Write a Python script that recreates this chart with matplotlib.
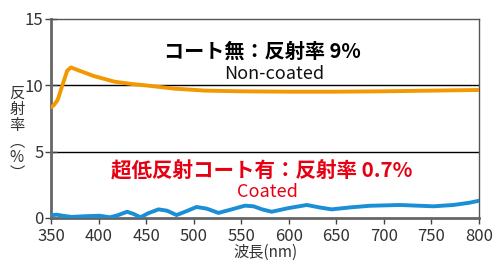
import matplotlib.pyplot as plt

plt.rcParams['font.family'] = ['Noto Sans CJK JP', 'DejaVu Sans']

# Non-coated reflectance (%)
wl_nc = [350, 353, 357, 362, 367, 371, 380, 395, 417, 435, 449, 480, 512,
         550, 600, 650, 700, 750, 800]
r_nc = [8.35, 8.5, 8.9, 10.0, 11.1, 11.35, 11.1, 10.7, 10.27, 10.1, 10.0,
        9.75, 9.6, 9.55, 9.52, 9.52, 9.55, 9.6, 9.65]

# Coated reflectance (%)
wl_c = [350, 356, 364, 372, 385, 401, 412, 420, 430, 437, 444, 452, 463, 472,
        482, 492, 503, 514, 526, 540, 554, 563, 572, 582, 600, 619, 632, 645,
        665, 685, 717, 752, 773, 790, 800]
r_c = [0.2, 0.25, 0.15, 0.08, 0.13, 0.17, 0.05, 0.2, 0.47, 0.3, 0.05, 0.35,
       0.65, 0.55, 0.22, 0.5, 0.83, 0.7, 0.38, 0.65, 0.93, 0.88, 0.65, 0.47,
       0.75, 0.98, 0.8, 0.65, 0.8, 0.92, 0.98, 0.88, 0.98, 1.15, 1.3]

x_ticks = [350, 400, 450, 500, 550, 600, 650, 700, 750, 800]
y_ticks = [0, 5, 10, 15]

fig = plt.figure(figsize=(4.97, 2.62), dpi=100)
ax = fig.add_axes([0.1026, 0.168, 0.8612, 0.7595])

for y in (5, 10):
    ax.axhline(y, color='black', lw=1, zorder=1)

ax.plot(wl_nc, r_nc, color='#f39800', lw=2.8, solid_capstyle='round', zorder=3)
ax.plot(wl_c, r_c, color='#1a8fd6', lw=2.8, solid_capstyle='round', zorder=3)

ax.set_xlim(350, 800)
ax.set_ylim(0, 15)
ax.set_xticks(x_ticks)
ax.set_yticks(y_ticks)
ax.tick_params(axis='both', labelsize=12, colors='#444444', length=4,
               width=1, labelcolor='#333333')
ax.tick_params(axis='x', pad=3.5)
ax.tick_params(axis='y', direction='inout', length=8, pad=1.5)

for side in ('left', 'bottom'):
    ax.spines[side].set_color('#666666')
    ax.spines[side].set_linewidth(2)
for side in ('top', 'right'):
    ax.spines[side].set_color('#555555')
    ax.spines[side].set_linewidth(1)

# annotations
ax.text(572, 12.6, 'コート無：反射率 9%', ha='center', va='center',
        fontsize=14.5, fontweight='bold', color='black')
ax.text(585, 10.85, 'Non-coated', ha='center', va='center',
        fontsize=13, color='#111111')
ax.text(572, 3.55, '超低反射コート有：反射率 0.7%', ha='center', va='center',
        fontsize=14.8, fontweight='bold', color='#e60012')
ax.text(578, 1.95, 'Coated', ha='center', va='center',
        fontsize=13, color='#e60012')

fig.text(0.034, 0.49, '反\n射\n率\n︵\n%\n︶', ha='center', va='center',
         fontsize=11, color='#333333', linespacing=0.92)
ax.set_xlabel('波長(nm)', fontsize=11, color='#333333', labelpad=-1)

fig.savefig('out.png', dpi=100)
